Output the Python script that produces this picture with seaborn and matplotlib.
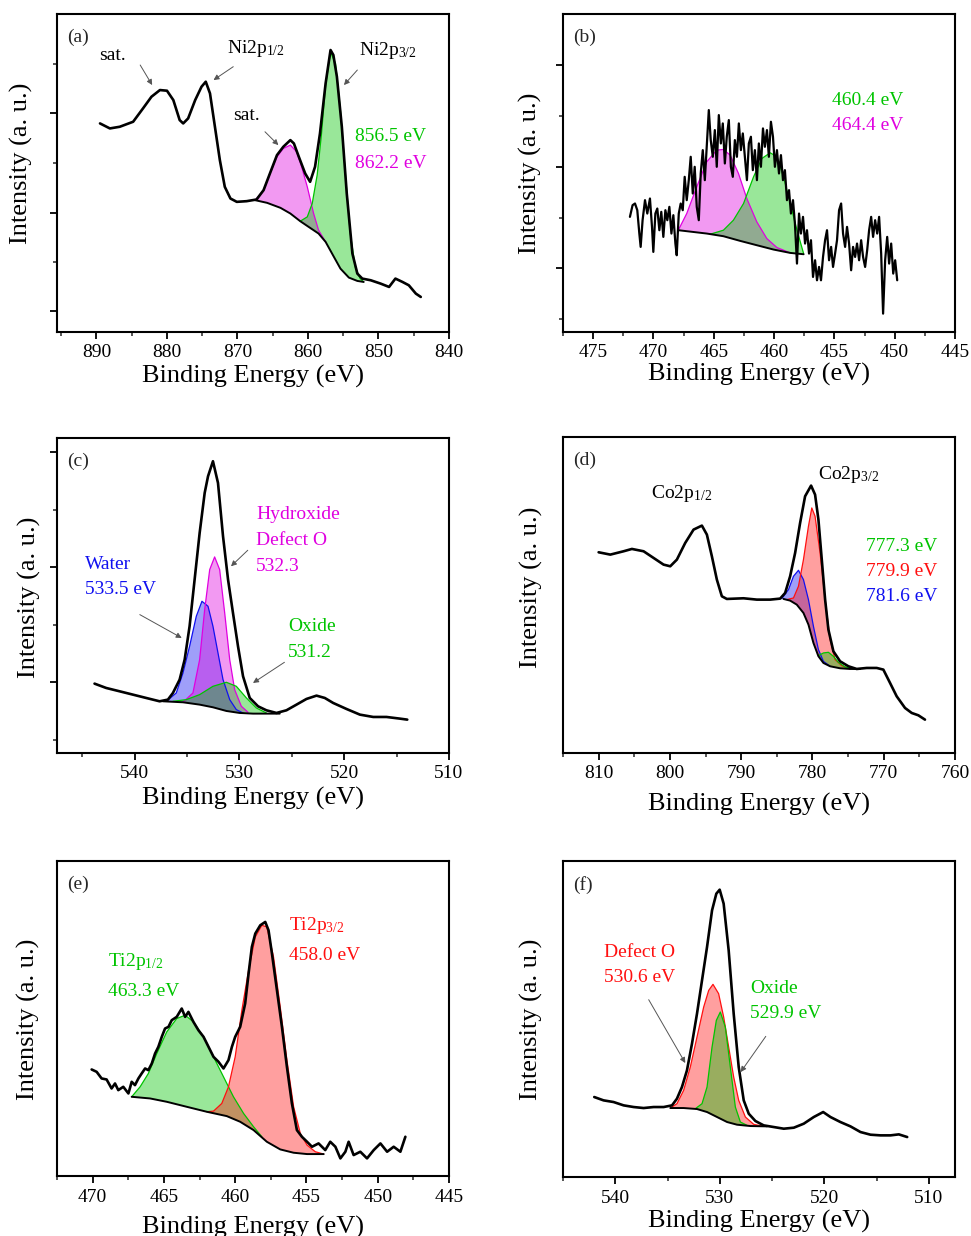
import matplotlib.pyplot as plt
import numpy as np
import seaborn as sns
from matplotlib.ticker import MultipleLocator

#%% (a) Ni 2p
a_energy = [889.5, 888.1, 886.7, 884.8, 883.4, 882.2, 881.0, 880.0, 879.1, 878.2, 877.7, 877.0, 876.0,
            875.1, 874.5, 873.9, 873.2, 872.5, 871.8, 871.0, 870.1, 868.7, 867.3, 866.3, 865.4, 864.4,
            863.5, 862.5, 862.0, 861.3, 860.4, 859.7, 859.0, 858.3, 857.5, 856.8, 856.4, 855.9, 855.2,
            854.5, 853.7, 853.0, 852.3, 851.1, 849.7, 848.5, 847.6, 846.6, 845.7, 844.7, 844.0]
a_counts = [625, 610, 615, 630, 670, 705, 725, 723, 695, 635, 625, 640, 695,
            735, 750, 715, 615, 515, 435, 400, 390, 392, 397, 425, 475, 530,
            555, 575, 565, 525, 475, 450, 495, 595, 745, 845, 830, 765, 615,
            415, 235, 175, 160, 155, 145, 135, 160, 150, 140, 115, 105]
a_bg_energy = [867.5, 865.8, 863.9, 862.5, 861.1, 859.7, 858.5, 857.5, 856.4, 855.4, 854.2, 853.0, 852.1]
a_bg = [395, 387, 372, 355, 332, 312, 295, 270, 228, 190, 163, 153, 150]
a_sat_energy = [867.5, 866.3, 865.4, 864.4, 863.5, 862.5, 861.6, 860.9, 860.1, 859.2, 858.5, 857.5]
a_sat = [395, 425, 475, 525, 550, 560, 540, 495, 435, 355, 305, 270]
a_p32_energy = [861.1, 860.1, 859.4, 858.7, 858.1, 857.5, 856.8, 856.1, 855.4, 854.7, 854.0, 853.3, 852.6, 852.1]
a_p32 = [332, 345, 385, 470, 590, 740, 838, 805, 665, 475, 295, 195, 160, 150]

#%% (b) Ti 2p (noisy)
b_energy = [471.95, 471.73, 471.53, 471.34, 471.17, 471.06, 470.90, 470.70, 470.51, 470.29,
            470.12, 470.01, 469.84, 469.68, 469.51, 469.35, 469.18, 469.01, 468.85, 468.68,
            468.51, 468.35, 468.18, 468.07, 467.90, 467.74, 467.57, 467.41,
            467.24, 467.07, 466.91, 466.74, 466.58, 466.41, 466.24, 466.08, 465.91, 465.74,
            465.58, 465.41, 465.25, 465.08, 464.91, 464.75, 464.58, 464.41, 464.25, 464.08,
            463.92, 463.75, 463.58, 463.42, 463.25, 463.08, 462.92, 462.75, 462.59, 462.42,
            462.25, 462.09, 461.92, 461.76, 461.59, 461.42, 461.26, 461.09, 460.92, 460.76,
            460.59, 460.43, 460.26, 460.09, 459.93, 459.76, 459.59, 459.43, 459.26, 459.10,
            458.93, 458.76, 458.60, 458.43, 458.27, 458.10, 457.93, 457.77, 457.60, 457.43,
            457.27, 457.10, 456.94, 456.77, 456.60, 456.44, 456.27, 456.11, 455.94, 455.77,
            455.61, 455.44, 455.27, 455.11, 454.94, 454.78, 454.61, 454.44, 454.28, 454.11,
            453.95, 453.78, 453.61, 453.45, 453.28, 453.12, 452.95, 452.78, 452.62, 452.45,
            452.28, 452.12, 451.95, 451.79, 451.62, 451.45, 451.29, 451.12, 450.96, 450.79,
            450.62, 450.46, 450.29, 450.12, 449.96, 449.79]
b_counts = [345, 380, 385, 365, 295, 255, 335, 395, 355, 400,
            315, 240, 355, 370, 305, 360, 285, 365, 335, 375,
            295, 350, 265, 230, 355, 385, 365, 465,
            395, 455, 525, 415, 495, 375, 335, 475, 545, 455,
            555, 665, 575, 525, 605, 495, 650, 565, 625, 505,
            585, 635, 495, 465, 575, 525, 625, 545, 595, 525,
            455, 565, 585, 485, 545, 455, 565, 495, 610, 555,
            605, 525, 630, 585, 495, 545, 475, 530, 455, 485,
            395, 425, 355, 395, 325, 205, 355, 295, 345, 265,
            305, 235, 275, 165, 215, 155, 195, 155, 225, 275,
            305, 215, 255, 195, 235, 275, 365, 385, 295, 255,
            315, 265, 185, 255, 225, 265, 215, 275, 225, 195,
            245, 305, 345, 285, 335, 295, 345, 235, 55, 215,
            285, 205, 265, 175, 215, 155]
b_bg_energy = [467.94, 465.58, 464.20, 462.81, 461.43, 460.04, 458.66, 457.55]
b_bg = [305, 295, 287, 273, 260, 247, 237, 233]
b_p12_energy = [467.94, 467.24, 466.41, 465.58, 464.75, 464.20, 463.64, 462.95, 462.26, 461.43, 460.60, 459.76, 458.66]
b_p12 = [305, 355, 435, 510, 545, 547, 530, 475, 400, 330, 280, 253, 237]
b_p32_energy = [465.30, 464.20, 463.37, 462.53, 461.70, 461.01, 460.32, 459.76, 459.21, 458.66, 458.10, 457.55]
b_p32 = [293, 305, 335, 385, 465, 520, 537, 525, 465, 385, 305, 235]

#%% (c) O 1s
c_energy = [543.82, 542.71, 541.43, 540.16, 538.89, 537.61, 536.82, 536.34, 535.70, 535.22, 534.75,
            534.27, 533.79, 533.31, 532.99, 532.52, 532.04, 531.56, 531.08, 530.61, 530.13, 529.65,
            529.01, 528.22, 527.42, 526.46, 525.51, 524.55, 523.60, 522.64, 521.85, 521.05, 519.78,
            518.50, 517.23, 515.96, 514.68, 513.98]
c_counts = [208, 195, 185, 175, 165, 155, 160, 180, 220, 280, 380,
            520, 660, 780, 830, 875, 810, 650, 520, 420, 320, 230,
            165, 140, 128, 120, 128, 145, 162, 172, 165, 150, 132,
            115, 108, 108, 103, 100]
c_bg_energy = [537.29, 535.38, 533.79, 532.52, 531.24, 529.97, 528.69, 527.42, 526.15]
c_bg = [155, 152, 145, 137, 126, 120, 118, 118, 118]
c_water_energy = [536.97, 536.02, 535.38, 534.75, 534.11, 533.57, 532.99, 532.52, 532.04, 531.56, 530.92, 530.29, 529.65]
c_water = [155, 180, 240, 320, 410, 455, 440, 380, 300, 220, 160, 130, 120]
c_hydrox_energy = [535.38, 534.43, 533.79, 533.31, 532.83, 532.36, 531.88, 531.40, 530.92, 530.45, 529.81, 529.17]
c_hydrox = [152, 180, 280, 430, 550, 588, 550, 420, 280, 190, 140, 122]
c_oxide_energy = [536.34, 535.06, 533.79, 532.52, 531.24, 530.29, 529.33, 528.38, 527.42]
c_oxide = [155, 160, 175, 200, 212, 200, 165, 135, 120]

#%% (d) Co 2p
d_energy = [810.00, 808.36, 806.50, 805.33, 803.69, 802.29, 800.89, 799.95, 799.02, 797.85, 796.68,
            795.51, 794.81, 794.11, 793.41, 792.71, 792.01, 789.67, 787.80, 785.93, 784.53, 783.83,
            783.13, 782.43, 781.73, 781.03, 780.19, 779.63, 779.16, 778.69, 778.22, 777.76, 777.06,
            776.12, 774.95, 773.79, 772.38, 770.98, 770.05, 769.11, 768.18, 767.01, 766.07, 765.14, 764.21]
d_counts = [602, 595, 605, 612, 605, 585, 565, 560, 580, 630, 670,
            682, 655, 590, 520, 470, 462, 464, 460, 460, 463, 480,
            530, 600, 690, 770, 802, 775, 700, 580, 460, 370, 305,
            275, 260, 252, 255, 255, 250, 210, 170, 135, 120, 113, 100]
d_bg_energy = [784.06, 783.13, 782.20, 781.26, 780.56, 779.86, 779.16, 778.46, 777.52, 776.12, 774.72, 773.32]
d_bg = [462, 457, 445, 420, 385, 330, 290, 270, 260, 254, 252, 252]
d_c1_energy = [783.60, 782.66, 781.96, 781.26, 780.56, 780.09, 779.63, 778.93, 778.22, 777.52, 776.82, 775.89, 774.72]
d_c1 = [460, 465, 500, 580, 680, 735, 710, 600, 460, 340, 280, 262, 252]
d_c2_energy = [784.30, 783.36, 782.66, 781.96, 781.26, 780.56, 779.86, 779.16, 778.46, 777.52]
d_c2 = [463, 490, 530, 548, 520, 460, 380, 310, 275, 260]
d_c3_energy = [779.16, 778.46, 777.76, 777.06, 776.36, 775.42, 774.25, 773.32]
d_c3 = [292, 300, 302, 290, 272, 258, 252, 252]

#%% (e) Ti 2p
e_energy = [470.07, 469.72, 469.37, 469.02, 468.67, 468.43, 468.20, 467.85, 467.49, 467.26, 467.03,
            466.79, 466.56, 466.32, 466.09, 465.85, 465.62, 465.39, 465.15, 464.92, 464.68, 464.45,
            464.10, 463.75, 463.51, 463.28, 462.93, 462.58, 462.22, 461.87, 461.52, 461.17, 460.82,
            460.47, 460.23, 460.00, 459.65, 459.30, 459.06, 458.83, 458.59, 458.24, 457.89, 457.66,
            457.42, 457.07, 456.72, 456.37, 456.02, 455.67, 455.32, 454.96, 454.61, 454.15, 453.68,
            453.33, 452.97, 452.62, 452.27, 452.04, 451.69, 451.22, 450.75, 450.28, 449.81, 449.34,
            448.88, 448.41, 448.06]
e_counts = [320, 313, 293, 290, 263, 278, 258, 268, 248, 283, 273,
            293, 308, 323, 318, 338, 368, 388, 418, 443, 448, 468,
            478, 503, 478, 493, 463, 438, 418, 388, 358, 343, 323,
            348, 388, 418, 448, 518, 608, 688, 728, 753, 763, 738,
            668, 558, 448, 328, 218, 138, 118, 103, 88, 98, 78,
            103, 88, 53, 73, 103, 63, 73, 53, 78, 98, 73,
            88, 73, 118]
e_bg_energy = [467.26, 465.97, 464.80, 463.40, 461.99, 460.59, 459.65, 458.71, 457.78, 456.84, 455.90, 454.96, 453.79]
e_bg = [238, 233, 223, 208, 193, 180, 163, 138, 103, 80, 70, 66, 66]
e_p12_energy = [467.26, 466.67, 466.09, 465.50, 464.80, 464.10, 463.51, 462.93, 462.22, 461.52, 460.82,
                460.12, 459.41, 458.71, 458.13]
e_p12 = [238, 268, 308, 368, 433, 473, 483, 463, 418, 358, 298, 238, 188, 148, 118]
e_p32_energy = [461.99, 461.52, 460.94, 460.47, 460.00, 459.53, 459.06, 458.59, 458.13, 457.78, 457.31,
                456.84, 456.37, 455.90, 455.43, 454.96, 454.38, 453.79]
e_p32 = [193, 195, 218, 268, 358, 498, 618, 718, 753, 748, 658, 508, 348, 208, 128, 93, 73, 66]

#%% (f) O 1s
f_energy = [542.01, 541.12, 540.16, 539.20, 538.24, 537.29, 536.33, 535.37, 534.57, 534.10, 533.62,
            533.14, 532.66, 532.18, 531.70, 531.22, 530.74, 530.33, 530.01, 529.63, 529.15, 528.67,
            528.19, 527.71, 527.23, 526.59, 525.80, 524.84, 523.88, 522.92, 521.97, 521.01, 520.11,
            519.41, 518.46, 517.50, 516.54, 515.58, 514.62, 513.67, 512.87, 512.07]
f_counts = [240, 230, 225, 215, 210, 207, 210, 210, 215, 235, 270,
            320, 400, 490, 590, 690, 800, 850, 862, 820, 680, 490,
            330, 230, 190, 168, 155, 150, 145, 148, 160, 180, 195,
            180, 165, 152, 135, 127, 125, 125, 128, 120]
f_bg_energy = [534.73, 533.46, 532.18, 531.22, 530.26, 529.30, 528.35, 527.07, 525.48]
f_bg = [207, 207, 204, 195, 180, 165, 157, 153, 152]
f_defect_energy = [534.73, 534.10, 533.46, 532.82, 532.18, 531.54, 531.06, 530.65, 530.11, 529.63,
                   529.15, 528.67, 528.19, 527.55, 526.75, 525.80]
f_defect = [207, 220, 260, 330, 420, 510, 560, 578, 550, 480, 390, 300, 230, 180, 158, 152]
f_oxide_energy = [532.34, 531.70, 531.22, 530.74, 530.33, 529.95, 529.47, 528.99, 528.51, 528.03, 527.39]
f_oxide = [205, 220, 270, 390, 470, 495, 450, 330, 210, 165, 155]

GREEN = '#00c400'
MAGENTA = '#e000e0'
RED = '#ff1010'
BLUE = '#1010f0'

sns.set_theme(style='ticks')
plt.rcParams['font.family'] = ['Liberation Serif', 'DejaVu Serif']
plt.rcParams['mathtext.fontset'] = 'custom'
plt.rcParams['mathtext.rm'] = 'Liberation Serif'
plt.rcParams['mathtext.it'] = 'Liberation Serif:italic'
plt.rcParams['axes.linewidth'] = 1.5
plt.rcParams['axes.edgecolor'] = 'black'


def draw_spectrum(ax, energy, counts, lw=1.9):
    sns.lineplot(x=energy, y=counts, ax=ax, color='black', lw=lw, estimator=None, sort=False, zorder=5)


def draw_peak(ax, pe, ph, be, bh, color):
    pe = np.asarray(pe)
    ph = np.asarray(ph)
    be = np.asarray(be)
    bh = np.asarray(bh)
    mask = (be >= pe.min()) & (be <= pe.max())
    xs = np.concatenate([pe, be[mask][::-1]])
    ys = np.concatenate([ph, bh[mask][::-1]])
    ax.fill(xs, ys, color=color, alpha=0.4, lw=0, zorder=2)
    sns.lineplot(x=pe, y=ph, ax=ax, color=color, lw=0.9, estimator=None, sort=False, zorder=3)


def style_axis(ax, xlim, ylim, xmaj, xmin, ymaj=None, ymin=None, ylab=(-0.05, 0.5), xlab=-0.11, tag=''):
    ax.set_xlim(*xlim)
    ax.set_ylim(*ylim)
    ax.xaxis.set_major_locator(MultipleLocator(xmaj))
    ax.xaxis.set_minor_locator(MultipleLocator(xmin))
    if ymaj is None:
        ax.set_yticks([])
    else:
        ax.set_yticks(ymaj)
        ax.set_yticks(ymin, minor=True)
        ax.set_yticklabels([])
    ax.tick_params(which='major', direction='out', length=5, width=1.3, labelsize=14, pad=4, colors='black')
    ax.tick_params(which='minor', direction='out', length=3, width=1.1)
    ax.tick_params(axis='x', top=False)
    ax.tick_params(axis='y', right=False)
    for s in ax.spines.values():
        s.set_visible(True)
        s.set_color('black')
    ax.set_xlabel('Binding Energy (eV)', fontsize=19, color='black')
    ax.set_ylabel('Intensity (a. u.)', fontsize=19, color='black')
    ax.xaxis.set_label_coords(0.5, xlab)
    ax.xaxis.label.set_verticalalignment('top')
    ax.yaxis.set_label_coords(*ylab)
    ax.text(0.025, 0.925, tag, transform=ax.transAxes, fontsize=14, va='center', ha='left')
    ax.grid(False)


def note(ax, x, y, s, color='black', ha='left'):
    ax.text(x, y, s, color=color, fontsize=14, ha=ha, va='center', zorder=6)


def arrow(ax, tail, tip):
    ax.annotate('', xy=tip, xytext=tail,
                arrowprops=dict(arrowstyle='-|>', color='#555555', lw=0.7, mutation_scale=8,
                                shrinkA=0, shrinkB=0), zorder=6)


fig = plt.figure(figsize=(9.71, 12.36), dpi=100)
ax_a = fig.add_axes([0.0587, 0.7314, 0.4037, 0.2573])
ax_b = fig.add_axes([0.5798, 0.7314, 0.4037, 0.2573])
ax_c = fig.add_axes([0.0587, 0.3908, 0.4037, 0.2549])
ax_d = fig.add_axes([0.5798, 0.3908, 0.4037, 0.2557])
ax_e = fig.add_axes([0.0587, 0.0485, 0.4037, 0.2549])
ax_f = fig.add_axes([0.5798, 0.0477, 0.4037, 0.2557])

#%% (a)
draw_peak(ax_a, a_sat_energy, a_sat, a_bg_energy, a_bg, MAGENTA)
draw_peak(ax_a, a_p32_energy, a_p32, a_bg_energy, a_bg, GREEN)
draw_spectrum(ax_a, a_bg_energy, a_bg, lw=1.4)
draw_spectrum(ax_a, a_energy, a_counts)
style_axis(ax_a, (895.6, 840), (0, 953), 10, 5, [655, 358, 62], [803, 505, 210],
           ylab=(-0.061, 0.53), xlab=-0.105, tag='(a)')
note(ax_a, 887.7, 830, 'sat.', ha='center')
note(ax_a, 871.5, 850, r'Ni2p$_{1/2}$')
note(ax_a, 852.8, 845, r'Ni2p$_{3/2}$')
note(ax_a, 868.7, 650, 'sat.', ha='center')
note(ax_a, 853.3, 585, '856.5 eV', GREEN)
note(ax_a, 853.3, 505, '862.2 eV', MAGENTA)
arrow(ax_a, (883.8, 800), (882.1, 740))
arrow(ax_a, (870.6, 795), (873.4, 755))
arrow(ax_a, (853.0, 785), (854.9, 740))
arrow(ax_a, (866.1, 600), (864.2, 560))

#%% (b)
draw_peak(ax_b, b_p12_energy, b_p12, b_bg_energy, b_bg, MAGENTA)
draw_peak(ax_b, b_p32_energy, b_p32, b_bg_energy, b_bg, GREEN)
draw_spectrum(ax_b, b_bg_energy, b_bg, lw=1.4)
draw_spectrum(ax_b, b_energy, b_counts, lw=1.6)
style_axis(ax_b, (477.5, 445), (0, 953), 5, 2.5, [800, 495, 193], [647, 343, 40],
           ylab=(-0.054, 0.5), xlab=-0.097, tag='(b)')
note(ax_b, 455.2, 695, '460.4 eV', GREEN)
note(ax_b, 455.2, 620, '464.4 eV', MAGENTA)

#%% (c)
draw_peak(ax_c, c_water_energy, c_water, c_bg_energy, c_bg, BLUE)
draw_peak(ax_c, c_hydrox_energy, c_hydrox, c_bg_energy, c_bg, MAGENTA)
draw_peak(ax_c, c_oxide_energy, c_oxide, c_bg_energy, c_bg, GREEN)
draw_spectrum(ax_c, c_bg_energy, c_bg, lw=1.4)
draw_spectrum(ax_c, c_energy, c_counts)
style_axis(ax_c, (547.4, 510), (0, 945), 10, 5, [902, 557, 213], [730, 385, 40],
           ylab=(-0.04, 0.495), xlab=-0.108, tag='(c)')
note(ax_c, 544.7, 565, 'Water', BLUE)
note(ax_c, 544.7, 490, '533.5 eV', BLUE)
note(ax_c, 528.4, 715, 'Hydroxide', MAGENTA)
note(ax_c, 528.4, 638, 'Defect O', MAGENTA)
note(ax_c, 528.4, 560, '532.3', MAGENTA)
note(ax_c, 525.35, 378, 'Oxide', GREEN)
note(ax_c, 525.35, 302, '531.2', GREEN)
arrow(ax_c, (539.5, 415), (535.5, 345))
arrow(ax_c, (529.2, 608), (530.8, 560))
arrow(ax_c, (525.7, 272), (528.7, 210))

#%% (d)
draw_peak(ax_d, d_c2_energy, d_c2, d_bg_energy, d_bg, BLUE)
draw_peak(ax_d, d_c1_energy, d_c1, d_bg_energy, d_bg, RED)
draw_peak(ax_d, d_c3_energy, d_c3, d_bg_energy, d_bg, GREEN)
draw_spectrum(ax_d, d_bg_energy, d_bg, lw=1.4)
draw_spectrum(ax_d, d_energy, d_counts)
style_axis(ax_d, (815, 760), (0, 948), 10, 5, ylab=(-0.051, 0.525), xlab=-0.127, tag='(d)')
note(ax_d, 802.7, 778, r'Co2p$_{1/2}$')
note(ax_d, 779.2, 835, r'Co2p$_{3/2}$')
note(ax_d, 772.5, 620, '777.3 eV', GREEN)
note(ax_d, 772.5, 545, '779.9 eV', RED)
note(ax_d, 772.5, 468, '781.6 eV', BLUE)

#%% (e)
draw_peak(ax_e, e_p12_energy, e_p12, e_bg_energy, e_bg, GREEN)
draw_peak(ax_e, e_p32_energy, e_p32, e_bg_energy, e_bg, RED)
draw_spectrum(ax_e, e_bg_energy, e_bg, lw=1.4)
draw_spectrum(ax_e, e_energy, e_counts)
style_axis(ax_e, (472.5, 445), (0, 946), 5, 2.5, ylab=(-0.043, 0.498), xlab=-0.125, tag='(e)')
note(ax_e, 468.9, 643, r'Ti2p$_{1/2}$', GREEN)
note(ax_e, 468.9, 553, '463.3 eV', GREEN)
note(ax_e, 456.2, 753, r'Ti2p$_{3/2}$', RED)
note(ax_e, 456.2, 663, '458.0 eV', RED)

#%% (f)
draw_peak(ax_f, f_defect_energy, f_defect, f_bg_energy, f_bg, RED)
draw_peak(ax_f, f_oxide_energy, f_oxide, f_bg_energy, f_bg, GREEN)
draw_spectrum(ax_f, f_bg_energy, f_bg, lw=1.4)
draw_spectrum(ax_f, f_energy, f_counts)
style_axis(ax_f, (545, 507.5), (0, 948), 10, 5, ylab=(-0.051, 0.5), xlab=-0.104, tag='(f)')
note(ax_f, 541.05, 675, 'Defect O', RED)
note(ax_f, 541.05, 600, '530.6 eV', RED)
note(ax_f, 527.1, 567, 'Oxide', GREEN)
note(ax_f, 527.1, 492, '529.9 eV', GREEN)
arrow(ax_f, (536.8, 532), (533.3, 342))
arrow(ax_f, (525.6, 422), (528.0, 315))

fig.savefig('out.png', dpi=100)
